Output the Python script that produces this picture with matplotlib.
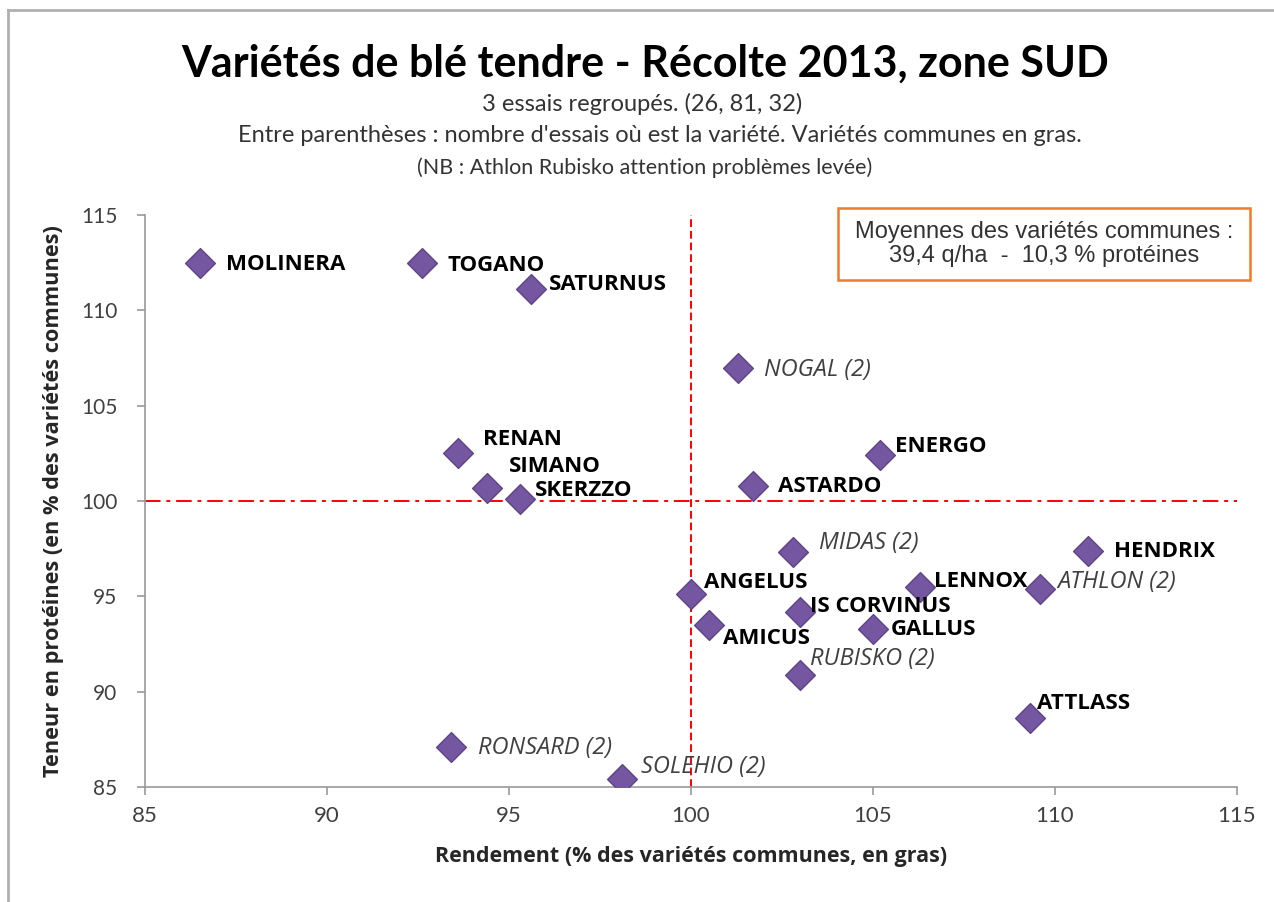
import matplotlib
matplotlib.use("Agg")
import matplotlib.pyplot as plt
from matplotlib.lines import Line2D
from matplotlib.patches import Rectangle

# data
varietes = ["MOLINERA", "TOGANO", "SATURNUS", "NOGAL (2)", "RENAN", "SIMANO",
            "SKERZZO", "ENERGO", "ASTARDO", "MIDAS (2)", "HENDRIX", "ANGELUS",
            "LENNOX", "ATHLON (2)", "IS CORVINUS", "AMICUS", "GALLUS",
            "RUBISKO (2)", "ATTLASS", "RONSARD (2)", "SOLEHIO (2)"]
rendement = [86.5, 92.6, 95.6, 101.3, 93.6, 94.4, 95.3, 105.2, 101.7, 102.8,
             110.9, 100.0, 106.3, 109.6, 103.0, 100.5, 105.0, 103.0, 109.3,
             93.4, 98.1]
proteines = [112.5, 112.5, 111.1, 107.0, 102.5, 100.7, 100.1, 102.4, 100.8,
             97.3, 97.4, 95.1, 95.5, 95.4, 94.2, 93.5, 93.3, 90.9, 88.6,
             87.1, 85.4]
communes = [True, True, True, False, True, True, True, True, True, False,
            True, True, True, False, True, True, True, False, True, False,
            False]

# label offsets (pixels) from each marker
offsets = {
    "MOLINERA": (26, -2), "TOGANO": (26, -3), "SATURNUS": (18, 5),
    "NOGAL (2)": (26, -2), "RENAN": (25, 14), "SIMANO": (22, 21),
    "SKERZZO": (15, 9), "ENERGO": (15, 9), "ASTARDO": (25, -1),
    "MIDAS (2)": (26, 9), "HENDRIX": (26, -1), "ANGELUS": (13, 12),
    "LENNOX": (14, 5), "ATHLON (2)": (17, 7), "IS CORVINUS": (10, 5),
    "AMICUS": (14, -14), "GALLUS": (18, -1), "RUBISKO (2)": (10, 16),
    "ATTLASS": (7, 15), "RONSARD (2)": (27, -1), "SOLEHIO (2)": (19, 12),
}

W, H = 1274, 902
fig = plt.figure(figsize=(12.74, 9.02), dpi=100)
ax = fig.add_axes([145 / W, 1 - 787 / H, 1092 / W, 572 / H])

ax.scatter(rendement, proteines, marker="D", s=230, color="#7457A0",
           edgecolor="#5E4488", linewidth=1, zorder=3)

for name, x, y, bold in zip(varietes, rendement, proteines, communes):
    dx, dy = offsets[name]
    if bold:
        ax.annotate(name, (x, y), xytext=(dx, dy), textcoords="offset pixels",
                    va="center", ha="left", fontsize=16, fontweight="bold",
                    family="Open Sans", color="black")
    else:
        ax.annotate(name, (x, y), xytext=(dx, dy), textcoords="offset pixels",
                    va="center", ha="left", fontsize=17, style="italic",
                    family="Open Sans", color="#404040")

ax.axvline(100, color="red", linestyle=(0, (4, 2)), linewidth=1.4, zorder=2)
ax.axhline(100, color="red", linestyle=(0, (8, 3, 2, 3)), linewidth=1.4, zorder=2)

ax.set_xlim(85, 115)
ax.set_ylim(85, 115)
ax.set_xticks(range(85, 116, 5))
ax.set_yticks(range(85, 116, 5))
for s in ["top", "right"]:
    ax.spines[s].set_visible(False)
for s in ["left", "bottom"]:
    ax.spines[s].set_color("#9a9a9a")
    ax.spines[s].set_linewidth(1.2)
ax.tick_params(colors="#9a9a9a", length=6, width=1.2, labelcolor="#404040")
ax.tick_params(axis="x", labelsize=16, pad=8)
ax.tick_params(axis="y", labelsize=15, pad=14)
for lab in ax.get_xticklabels() + ax.get_yticklabels():
    lab.set_family("Lato")

ax.set_xlabel("Rendement (% des variétés communes, en gras)", fontsize=15.5,
              fontweight="bold", family="Open Sans", color="#262626", labelpad=14)
ax.set_ylabel("Teneur en protéines (en % des variétés communes)", fontsize=15.7,
              fontweight="bold", family="Open Sans", color="#262626", labelpad=12)

# box with the means of the common varieties
fig.add_artist(Rectangle((838 / W, 1 - 280 / H), 412 / W, 72 / H,
                         transform=fig.transFigure, facecolor="white",
                         edgecolor="#F07B2A", linewidth=1.8, zorder=5))
fig.text(1044 / W, 1 - 244 / H,
         "Moyennes des variétés communes :\n39,4 q/ha  -  10,3 % protéines",
         ha="center", va="center", fontsize=17, family="Liberation Sans",
         color="#333333", linespacing=1.15, zorder=6)

fig.text(645 / W, 1 - 64 / H, "Variétés de blé tendre - Récolte 2013, zone SUD",
         ha="center", va="center", fontsize=31, fontweight="bold", family="Lato")
fig.text(642 / W, 1 - 104 / H, "3 essais regroupés. (26, 81, 32)", ha="center",
         va="center", fontsize=17, family="Lato", color="#333333")
fig.text(660 / W, 1 - 136 / H, "Entre parenthèses : nombre d'essais où est la variété. "
         "Variétés communes en gras.", ha="center", va="center", fontsize=17,
         family="Lato", color="#333333")
fig.text(645 / W, 1 - 168 / H, "(NB : Athlon Rubisko attention problèmes levée)",
         ha="center", va="center", fontsize=15.5, family="Lato", color="#333333")

# outer chart frame (cut at right and bottom)
fig.add_artist(Line2D([8 / W, 8 / W], [0, 1 - 10 / H],
                      color="#b0b0b0", linewidth=2))
fig.add_artist(Line2D([8 / W, 1], [1 - 10 / H, 1 - 10 / H],
                      color="#b0b0b0", linewidth=2))

fig.savefig("out.png", dpi=100)
